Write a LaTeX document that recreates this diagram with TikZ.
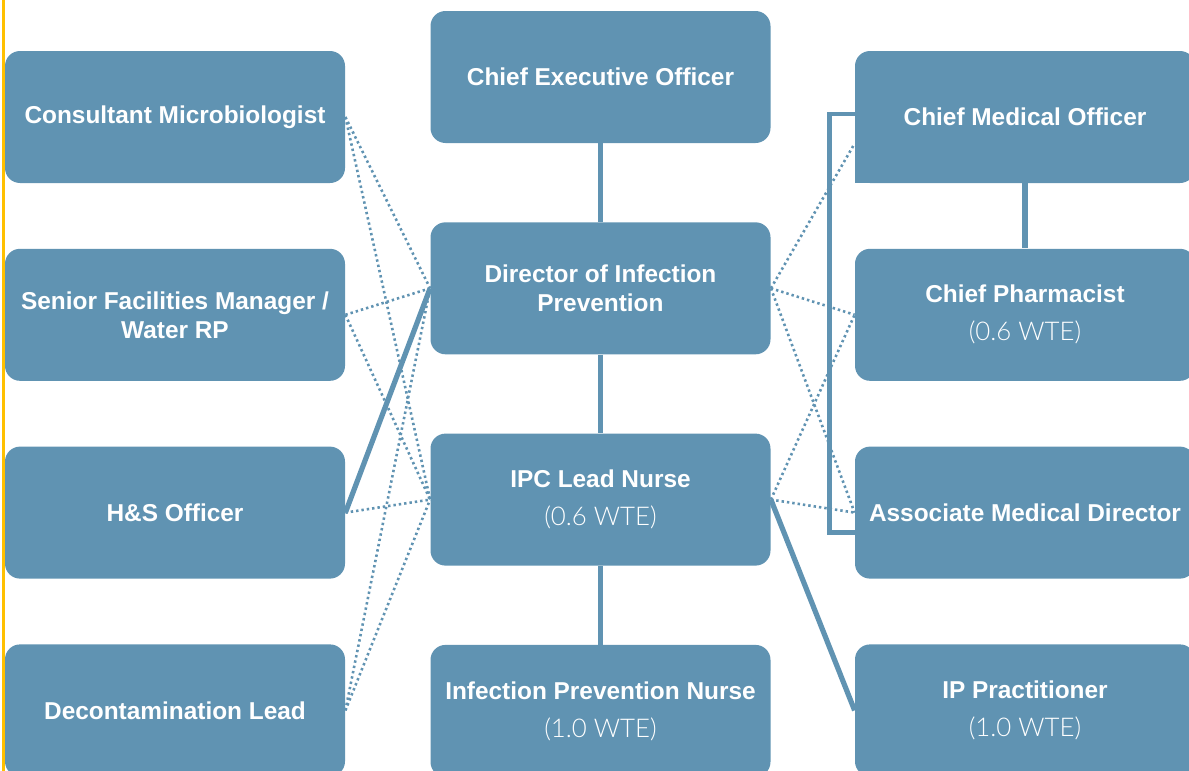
\documentclass[tikz,border=0pt]{standalone}
\usepackage{fontspec}
\setmainfont{Liberation Sans}
\newfontfamily\wtefont{Lato Light}
\usetikzlibrary{positioning, calc, backgrounds}

\definecolor{boxblue}{RGB}{96,147,178}
\definecolor{railgold}{RGB}{255,192,0}

\tikzset{
    rolebox/.style={fill=boxblue, rounded corners=7.5pt, minimum width=170pt,
        minimum height=66pt, inner sep=0pt, text=white, align=center,
        font=\fontsize{12.2}{14.5}\selectfont\bfseries},
    line/.style={draw=boxblue, line width=2.6pt},
    dotline/.style={draw=boxblue, line width=1.3pt, dash pattern=on 1.2pt off 1.5pt},
}
\newcommand{\wte}[1]{\\[4.5pt]{\normalfont\wtefont\fontsize{12.9}{14.5}\selectfont #1}}

\begin{document}
\begin{tikzpicture}[x=0.5pt, y=-0.5pt]
    \useasboundingbox (0,0) rectangle (1189,771);
    \fill[railgold] (1.5,0) rectangle (5,771);

    % left column
    \node[rolebox] (cm) at (175,117) {Consultant Microbiologist};
    \node[rolebox, below=32.5pt of cm] (sfm) {Senior Facilities Manager /\\ Water RP};
    \node[rolebox, below=32.5pt of sfm] (hs) {H\&S Officer};
    \node[rolebox, below=32.5pt of hs] (dl) {Decontamination Lead};

    % middle column
    \node[rolebox] (ceo) at (600.5,77) {Chief Executive Officer};
    \node[rolebox, below=39.25pt of ceo] (dip) {Director of Infection\\ Prevention};
    \node[rolebox, below=39.25pt of dip] (ipc) {IPC Lead Nurse\wte{(0.6 WTE)}};
    \node[rolebox, below=39.25pt of ipc] (ipn) {Infection Prevention Nurse\wte{(1.0 WTE)}};

    % right column
    \node[rolebox] (cmo) at (1025,117) {Chief Medical Officer};
    \node[rolebox, below=32.5pt of cmo] (cp) {Chief Pharmacist\wte{(0.6 WTE)}};
    \node[rolebox, below=32.5pt of cp] (amd) {Associate Medical Director};
    \node[rolebox, below=32.5pt of amd] (ipp) {IP Practitioner\wte{(1.0 WTE)}};
    \fill[boxblue] (cmo.south west) rectangle ++(16,-16);

    \begin{scope}[on background layer]
        % solid reporting lines
        \draw[line] (ceo) -- (dip);
        \draw[line] (dip) -- (ipc);
        \draw[line] (ipc) -- (ipn);
        \draw[line] (cmo) -- (cp);
        \draw[line] (hs.east) -- (dip.west);
        \draw[line] (ipc.east) -- (ipp.west);
        \draw[line, line width=2.4pt] ([yshift=1.5pt]cmo.west) -- ++(-25.5,0) |- ([yshift=-9.75pt]amd.west);

        % dotted links
        \foreach \src in {cm,sfm,hs,dl}
            \draw[dotline] (\src.east) -- (ipc.west);
        \foreach \src in {cm,sfm,dl}
            \draw[dotline] (\src.east) -- (dip.west);
        \draw[dotline] (dip.east) -- ($(cmo.south west)!0.3!(cmo.north west)$);
        \foreach \dst in {cp,amd} {
            \draw[dotline] (dip.east) -- (\dst.west);
            \draw[dotline] (ipc.east) -- (\dst.west);
        }
    \end{scope}
\end{tikzpicture}
\end{document}
